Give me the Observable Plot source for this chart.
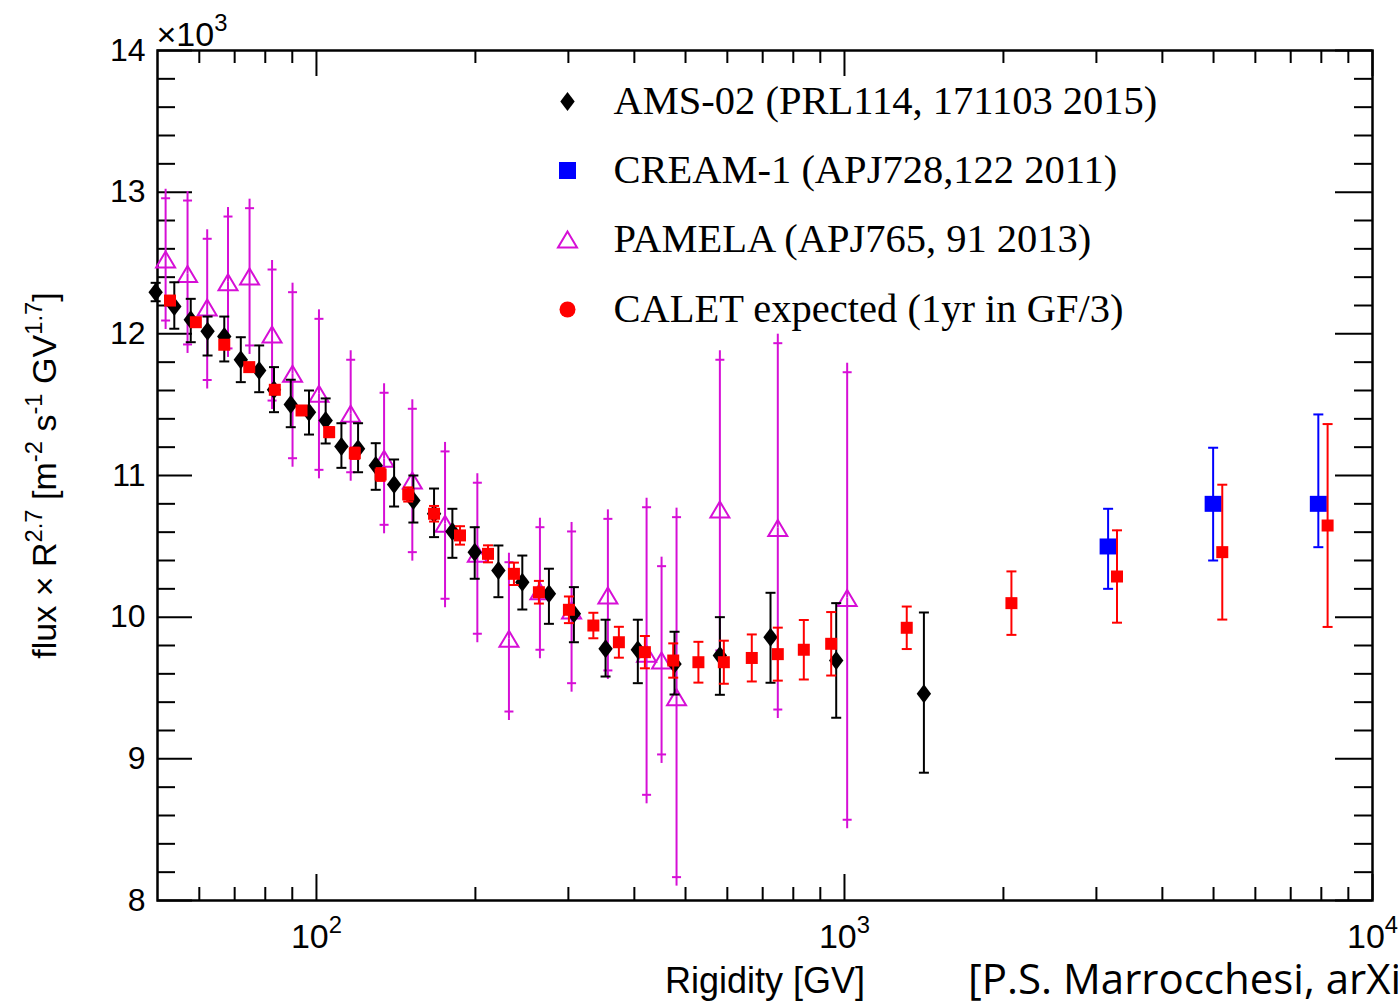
<!DOCTYPE html>
<html><head><meta charset="utf-8">
<script src="https://cdn.jsdelivr.net/npm/d3@7"></script>
<script src="https://cdn.jsdelivr.net/npm/@observablehq/plot@0.6"></script>
<style>
html,body{margin:0;padding:0;background:#fff;overflow:hidden;}
#wrap{position:relative;width:1398px;height:1001px;overflow:hidden;}
#caption{position:absolute;left:968px;top:961px;font-family:"Open Sans",sans-serif;font-size:42px;white-space:nowrap;color:#000;line-height:0.8;}
</style></head>
<body><div id="wrap"><div id="chart"></div><div id="caption">[P.S. Marrocchesi, arXiv]</div></div>
<script>
// ---------------- data (flux × R^2.7 in units of 10^3) ----------------
const amsRigidity = [49.6, 53.8, 57.8, 62.2, 66.9, 71.9, 77.9, 83.1, 89.4, 96.8, 104.1, 111.5, 119.9, 129.5, 140.3, 152.6, 167.0, 180.9, 199.4, 221.1, 245.4, 275.6, 307.3, 352.8, 406.1, 476.6, 580.8, 724.3, 964.6, 1413.9];
const amsFlux = [12.294, 12.193, 12.099, 12.019, 11.981, 11.817, 11.741, 11.605, 11.501, 11.447, 11.388, 11.205, 11.189, 11.071, 10.937, 10.824, 10.730, 10.605, 10.459, 10.330, 10.247, 10.165, 10.024, 9.777, 9.770, 9.670, 9.730, 9.859, 9.694, 9.459];
const amsLow = [12.23, 12.036, 11.941, 11.847, 11.805, 11.659, 11.588, 11.447, 11.341, 11.289, 11.226, 11.054, 11.023, 10.899, 10.781, 10.668, 10.565, 10.419, 10.271, 10.141, 10.054, 9.953, 9.823, 9.581, 9.534, 9.454, 9.452, 9.537, 9.290, 8.902];
const amsHigh = [12.36, 12.364, 12.247, 12.122, 12.122, 11.976, 11.918, 11.765, 11.676, 11.600, 11.544, 11.369, 11.369, 11.228, 11.113, 11.000, 10.908, 10.765, 10.635, 10.506, 10.435, 10.342, 10.212, 9.982, 9.982, 9.897, 10.000, 10.172, 10.099, 10.033];

const creamRigidity = [3157, 4991, 7896];
const creamFlux = [10.499, 10.800, 10.800];
const creamLow = [10.200, 10.400, 10.494];
const creamHigh = [10.765, 11.196, 11.431];

const pamRigidity = [51.8, 57.0, 62.1, 68.0, 74.7, 82.4, 90.1, 101.1, 116.1, 134.3, 151.9, 175.2, 201.7, 231.5, 265.0, 304.2, 356.4, 421.9, 450.4, 480.8, 580.8, 747.7, 1011.8];
const pamFlux = [12.525, 12.422, 12.186, 12.364, 12.405, 11.995, 11.718, 11.577, 11.436, 11.118, 10.965, 10.659, 10.447, 9.847, 10.183, 10.047, 10.153, 9.741, 9.694, 9.435, 10.760, 10.630, 10.135];
const pamLow = [12.094, 11.925, 11.674, 11.897, 11.918, 11.529, 11.122, 11.040, 11.023, 10.652, 10.459, 10.130, 9.883, 9.334, 9.770, 9.534, 9.624, 8.746, 9.031, 8.165, 9.765, 9.348, 8.570];
const pamHigh = [12.957, 12.941, 12.671, 12.828, 12.887, 12.454, 12.294, 12.106, 11.817, 11.584, 11.471, 11.170, 10.949, 10.388, 10.635, 10.605, 10.694, 10.776, 10.360, 10.706, 11.817, 11.934, 11.729];

const calRigidity = [52.8, 59.1, 66.9, 74.6, 83.4, 93.7, 105.7, 118.2, 132.3, 149.2, 167.0, 187.0, 211.3, 236.6, 263.8, 300.7, 334.5, 373.9, 418.8, 473.9, 528.9, 590.9, 667.5, 747.7, 837.5, 943.7, 1312, 2071, 3282, 5194, 8222];
const calFlux = [12.235, 12.082, 11.923, 11.765, 11.605, 11.459, 11.306, 11.157, 11.007, 10.866, 10.730, 10.577, 10.447, 10.306, 10.176, 10.052, 9.941, 9.823, 9.753, 9.694, 9.682, 9.682, 9.712, 9.739, 9.770, 9.812, 9.925, 10.099, 10.287, 10.459, 10.647];
const calErr = [0.02, 0.02, 0.025, 0.025, 0.03, 0.03, 0.035, 0.04, 0.045, 0.05, 0.055, 0.065, 0.06, 0.079, 0.08, 0.094, 0.09, 0.109, 0.114, 0.121, 0.144, 0.152, 0.166, 0.187, 0.21, 0.224, 0.15, 0.224, 0.326, 0.476, 0.716];

const legendLabels = ["AMS-02 (PRL114, 171103 2015)", "CREAM-1 (APJ728,122 2011)", "PAMELA (APJ765, 91 2013)", "CALET expected (1yr in GF/3)"];

const xMinorTicks = [60, 70, 80, 90, 200, 300, 400, 500, 600, 700, 800, 900, 2000, 3000, 4000, 5000, 6000, 7000, 8000, 9000];
const xMajorTicks = [100, 1000, 10000];
const yMajorTicks = [8, 9, 10, 11, 12, 13, 14];
const yMinorTicks = [8.2, 8.4, 8.6, 8.8, 9.2, 9.4, 9.6, 9.8, 10.2, 10.4, 10.6, 10.8, 11.2, 11.4, 11.6, 11.8, 12.2, 12.4, 12.6, 12.8, 13.2, 13.4, 13.6, 13.8];

const xTitle = "Rigidity [GV]";
const yTitle = "flux \u00d7 R^{2.7} [m^{-2} s^{-1} GV^{1.7}]";
const yExponent = "\u00d710^{3}";

// ---------------- build tables ----------------
const ams = amsRigidity.map((x, i) => ({x, y: amsFlux[i], lo: amsLow[i], hi: amsHigh[i]}));
const cream = creamRigidity.map((x, i) => ({x, y: creamFlux[i], lo: creamLow[i], hi: creamHigh[i]}));
const pamela = pamRigidity.map((x, i) => ({x, y: pamFlux[i], lo: pamLow[i], hi: pamHigh[i]}));
const calet = calRigidity.map((x, i) => ({x, y: calFlux[i], lo: calFlux[i] - calErr[i], hi: calFlux[i] + calErr[i]}));

// ---------------- styles ----------------
const W = 1398, H = 1001, ML = 157, MR = 26, MT = 50, MB = 101;
const FW = W - ML - MR, FH = H - MT - MB;
const MAG = "#d60fd6", RED = "#ff0000", BLUE = "#0000ff", BLK = "#000000";

const diamond = {draw(c) { c.moveTo(0, -9.5); c.lineTo(7.2, 0); c.lineTo(0, 9.5); c.lineTo(-7.2, 0); c.closePath(); }};
const square = (w, h) => ({draw(c) { c.rect(-w / 2, -h / 2, w, h); }});
const triangle = {draw(c) { c.moveTo(0, -8); c.lineTo(9.5, 8); c.lineTo(-9.5, 8); c.closePath(); }};
const cap = w => ({draw(c) { c.moveTo(-w, 0); c.lineTo(w, 0); }});

function errorBars(data, color, capW, gap) {
  const marks = [];
  if (gap) {
    marks.push(Plot.ruleX(data, {x: "x", y1: "lo", y2: "y", insetTop: gap, stroke: color, strokeWidth: 2}));
    marks.push(Plot.ruleX(data, {x: "x", y1: "y", y2: "hi", insetBottom: gap, stroke: color, strokeWidth: 2}));
  } else {
    marks.push(Plot.ruleX(data, {x: "x", y1: "lo", y2: "hi", stroke: color, strokeWidth: 2}));
  }
  marks.push(Plot.dot(data, {x: "x", y: "lo", symbol: cap(capW), stroke: color, strokeWidth: 2, fill: "none"}));
  marks.push(Plot.dot(data, {x: "x", y: "hi", symbol: cap(capW), stroke: color, strokeWidth: 2, fill: "none"}));
  return marks;
}

const legendRows = [51, 120, 189, 259];
const legendSymbols = [
  {symbol: diamond, fill: BLK, stroke: "none"},
  {symbol: square(17, 17), fill: BLUE, stroke: "none"},
  {symbol: triangle, fill: "none", stroke: MAG, strokeWidth: 2},
  {symbol: "circle", r: 8, fill: RED, stroke: "none"}
];

const marks = [
  // inward ticks on all four sides
  Plot.tickX(xMinorTicks, {x: d => d, insetTop: FH - 13, stroke: BLK, strokeWidth: 2}),
  Plot.tickX(xMajorTicks, {x: d => d, insetTop: FH - 26, stroke: BLK, strokeWidth: 2}),
  Plot.tickX(xMinorTicks, {x: d => d, insetBottom: FH - 13, stroke: BLK, strokeWidth: 2}),
  Plot.tickX(xMajorTicks, {x: d => d, insetBottom: FH - 26, stroke: BLK, strokeWidth: 2}),
  Plot.tickY(yMinorTicks, {y: d => d, insetRight: FW - 18, stroke: BLK, strokeWidth: 2}),
  Plot.tickY(yMajorTicks, {y: d => d, insetRight: FW - 35, stroke: BLK, strokeWidth: 2}),
  Plot.tickY(yMinorTicks, {y: d => d, insetLeft: FW - 18, stroke: BLK, strokeWidth: 2}),
  Plot.tickY(yMajorTicks, {y: d => d, insetLeft: FW - 37, stroke: BLK, strokeWidth: 2}),
  Plot.frame({stroke: BLK, strokeWidth: 2.5}),
  Plot.axisY({ticks: yMajorTicks, tickSize: 0, tickPadding: 12, fontSize: 32, tickFormat: d => String(d), label: null}),
  Plot.axisX({ticks: xMajorTicks, tickSize: 0, tickPadding: 23, fontSize: 34, tickFormat: d => "10^{" + Math.round(Math.log10(d)) + "}", label: null}),
  // PAMELA
  ...errorBars(pamela, MAG, 4.5, 9),
  Plot.dot(pamela, {x: "x", y: "y", symbol: triangle, fill: "none", stroke: MAG, strokeWidth: 2}),
  // AMS-02
  ...errorBars(ams, BLK, 5),
  Plot.dot(ams, {x: "x", y: "y", symbol: diamond, fill: BLK}),
  // CREAM
  ...errorBars(cream, BLUE, 5),
  Plot.dot(cream, {x: "x", y: "y", symbol: square(17, 16), fill: BLUE}),
  // CALET
  ...errorBars(calet, RED, 5),
  Plot.dot(calet, {x: "x", y: "y", symbol: square(12, 12), fill: RED}),
  // legend
  ...legendSymbols.map((s, i) => Plot.dot([legendLabels[i]], {frameAnchor: "top-left", dx: 410, dy: legendRows[i], ...s})),
  ...legendLabels.map((t, i) => Plot.text([t], {frameAnchor: "top-left", dx: 456, dy: legendRows[i], textAnchor: "start", lineAnchor: "middle", fontSize: 40.5, fontFamily: "'Liberation Serif', 'Times New Roman', serif", fill: BLK})),
  // titles
  Plot.text([xTitle], {frameAnchor: "bottom", dy: 92, textAnchor: "middle", lineAnchor: "bottom", fontSize: 36, fill: BLK}),
  Plot.text([yTitle], {frameAnchor: "left", dx: -112, rotate: -90, textAnchor: "middle", lineAnchor: "middle", fontSize: 34, fill: BLK}),
  Plot.text([yExponent], {frameAnchor: "top-left", dx: -1, dy: -5, textAnchor: "start", lineAnchor: "bottom", fontSize: 34, fill: BLK})
];

const chart = Plot.plot({
  width: W, height: H,
  marginLeft: ML, marginRight: MR, marginTop: MT, marginBottom: MB,
  x: {type: "log", domain: [50, 10000]},
  y: {type: "linear", domain: [8, 14]},
  style: {fontFamily: "'Liberation Sans', Arial, sans-serif", background: "white", color: "black", overflow: "visible"},
  marks
});

// superscript helper: turns "a^{b}c" into tspans
function supify(el) {
  const t = d3.select(el);
  const parts = el.textContent.split(/(\^\{[^}]*\})/);
  t.text(null);
  let raised = false;
  for (const p of parts) {
    if (!p) continue;
    if (p.startsWith("^{")) {
      t.append("tspan").attr("font-size", "0.7em").attr("dy", "-0.6em").text(p.slice(2, -1));
      raised = true;
    } else {
      const ts = t.append("tspan").text(p);
      if (raised) { ts.attr("dy", "0.42em"); raised = false; }
    }
  }
}
d3.select(chart).selectAll("text").each(function () {
  if (this.textContent.includes("^{")) supify(this);
});

document.getElementById("chart").appendChild(chart);
</script>
</body></html>
